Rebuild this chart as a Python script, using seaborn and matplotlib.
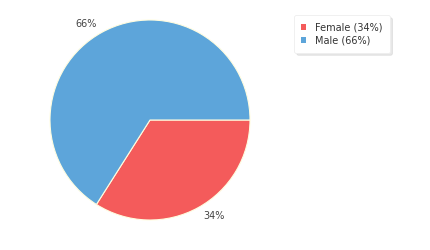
import matplotlib
matplotlib.use("Agg")
import matplotlib.pyplot as plt
import seaborn as sns
import numpy as np
from matplotlib.patches import Patch

categories = ["Female", "Male"]
values = [34, 66]
colors = ["#F45B5B", "#5DA5DA"]

sns.set_theme(style="white")
plt.rcParams['font.family'] = ['DejaVu Sans']

fig = plt.figure(figsize=(4.3, 2.5), dpi=100)
ax = fig.add_axes([50/430, 30/250, 200/430, 200/250])
wedges, texts, autotexts = ax.pie(
    values, colors=colors, startangle=0, counterclock=False,
    autopct=lambda p: f"{p:.0f}%", pctdistance=1.15, radius=1,
    wedgeprops=dict(edgecolor="#FFFDE0", linewidth=0.8),
    textprops=dict(fontsize=7, color="#444444"))
# rotate label positions slightly counter-clockwise
for t in autotexts:
    x, y = t.get_position()
    r = np.hypot(x, y)
    a = np.arctan2(y, x) + np.deg2rad(5)
    t.set_position((r * np.cos(a), r * np.sin(a)))
ax.set_xlim(-1, 1)
ax.set_ylim(-1, 1)
ax.set_aspect("equal")
ax.axis("off")

handles = [Patch(facecolor=c, edgecolor="none") for c in colors]
labels = [f"{c} ({v}%)" for c, v in zip(categories, values)]
leg = fig.legend(handles, labels, loc="upper left", bbox_to_anchor=(294/430, 1 - 15/250),
                 frameon=True, fancybox=True,
                 shadow=dict(color="#bbbbbb", alpha=0.35),
                 fontsize=7,
                 handlelength=0.5, handleheight=0.5, handletextpad=0.9,
                 borderpad=0.75, labelspacing=0.3, edgecolor="#eeeeee",
                 borderaxespad=0)
leg.get_frame().set_linewidth(0.6)
for t in leg.get_texts():
    t.set_color("#333333")
fig.savefig("out.png", dpi=100)
